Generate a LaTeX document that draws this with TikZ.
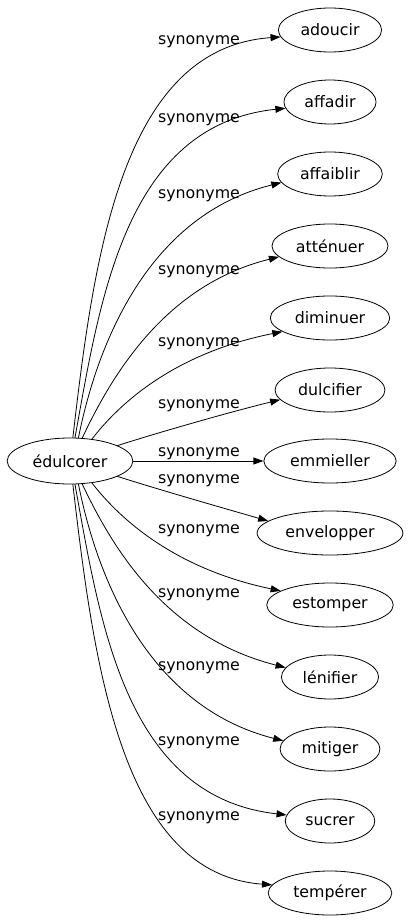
\documentclass[tikz,border=0pt]{standalone}
\usepackage{fontspec}
\setmainfont{DejaVu Sans}
\usetikzlibrary{shapes.geometric,arrows.meta}
\tikzset{
  word/.style={draw,ellipse,line width=0.8pt,inner xsep=7pt,minimum height=44pt,font=\fontsize{15.8}{19}\selectfont},
  rel/.style={font=\fontsize{15.8}{19}\selectfont,inner sep=0pt,anchor=base},
  syn/.style={line width=0.8pt,-{Triangle[length=10pt,width=7pt]}}
}
\begin{document}
\begin{tikzpicture}[line cap=round,line join=round,x=1pt,y=-1pt]
			\useasboundingbox (0,0) rectangle (408,923);
			\node [word,minimum height=46pt] (root) at (70,461) {édulcorer};
			\node [word] (adoucir) at (330,30) {adoucir};
			\node [word] (affadir) at (330,102) {affadir};
			\node [word] (affaiblir) at (330,174) {affaiblir};
			\node [word] (attenuer) at (330,246) {atténuer};
			\node [word] (diminuer) at (330,318) {diminuer};
			\node [word] (dulcifier) at (330,390) {dulcifier};
			\node [word] (emmieller) at (330,461) {emmieller};
			\node [word] (envelopper) at (330,533) {envelopper};
			\node [word] (estomper) at (330,605) {estomper};
			\node [word] (lenifier) at (330,677) {lénifier};
			\node [word] (mitiger) at (330,749) {mitiger};
			\node [word] (sucrer) at (330,821) {sucrer};
			\node [word] (temperer) at (330,893) {tempérer};
			\draw [syn] (root.83) .. controls (94,255) and (122,48) .. (adoucir.188);
			\draw [syn] (root.78) .. controls (100,300) and (125,125) .. (affadir.188);
			\draw [syn] (root.70) .. controls (98,340) and (150,215) .. (affaiblir.190);
			\draw [syn] (root.62) .. controls (112,375) and (165,285) .. (attenuer.192);
			\draw [syn] (root.45) .. controls (130,390) and (190,350) .. (diminuer.196);
			\draw [syn] (root.18) .. controls (160,432) and (230,412) .. (dulcifier.191);
			\draw [syn] (root.east) -- (emmieller.west);
			\draw [syn] (root.-18) .. controls (160,490) and (230,510) .. (envelopper.169);
			\draw [syn] (root.-45) .. controls (130,532) and (190,572) .. (estomper.164);
			\draw [syn] (root.-62) .. controls (112,547) and (165,637) .. (lenifier.168);
			\draw [syn] (root.-70) .. controls (98,582) and (150,707) .. (mitiger.170);
			\draw [syn] (root.-78) .. controls (100,622) and (125,797) .. (sucrer.172);
			\draw [syn] (root.-83) .. controls (94,667) and (122,874) .. (temperer.172);
			\node [rel] (l-adoucir) at (199,45) {synonyme};
			\node [rel] (l-affadir) at (199,122) {synonyme};
			\node [rel] (l-affaiblir) at (199,198) {synonyme};
			\node [rel] (l-attenuer) at (199,274) {synonyme};
			\node [rel] (l-diminuer) at (199,346) {synonyme};
			\node [rel] (l-dulcifier) at (199,408) {synonyme};
			\node [rel] (l-emmieller) at (199,456) {synonyme};
			\node [rel] (l-envelopper) at (199,483) {synonyme};
			\node [rel] (l-estomper) at (199,533) {synonyme};
			\node [rel] (l-lenifier) at (199,597) {synonyme};
			\node [rel] (l-mitiger) at (199,670) {synonyme};
			\node [rel] (l-sucrer) at (199,745) {synonyme};
			\node [rel] (l-temperer) at (199,820) {synonyme};
		\end{tikzpicture}
\end{document}
